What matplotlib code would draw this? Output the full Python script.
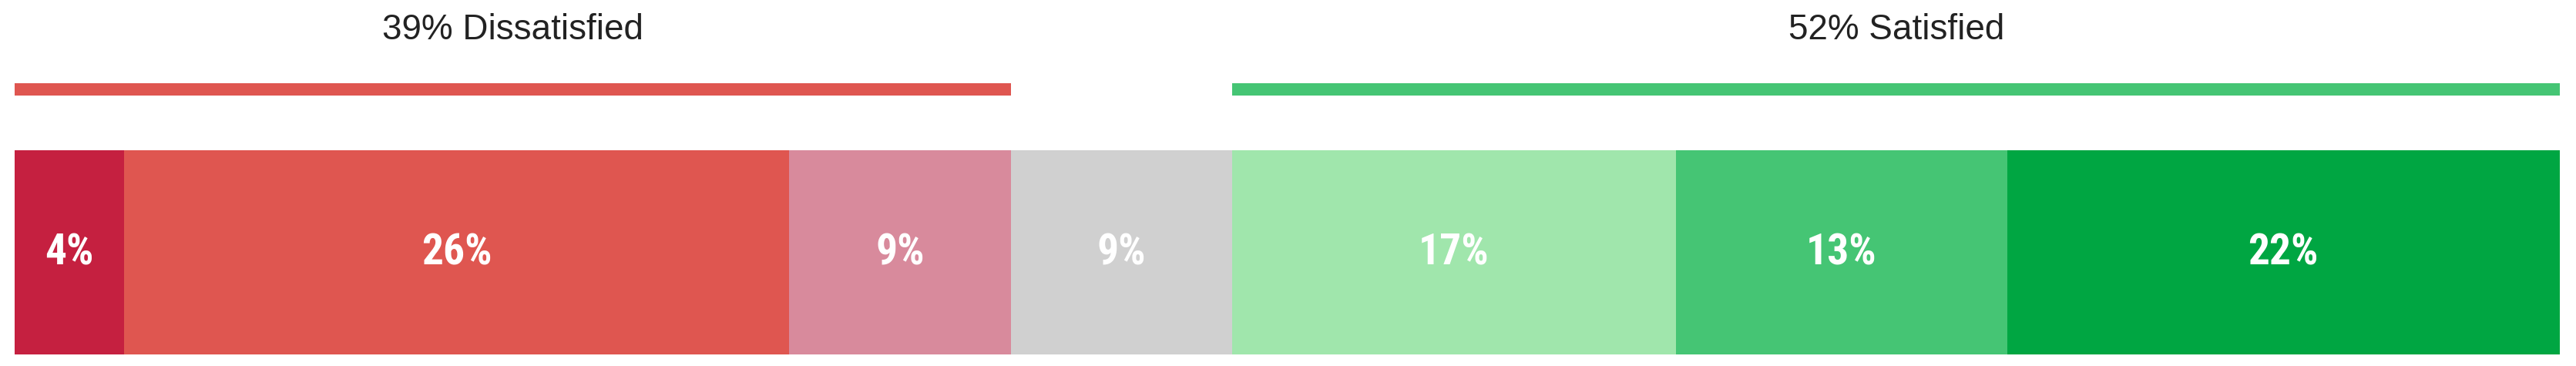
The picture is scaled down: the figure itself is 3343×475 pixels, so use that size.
import numpy as np
import matplotlib
matplotlib.use("Agg")
import matplotlib.pyplot as plt
from matplotlib import font_manager

# segment shares (labels are rounded)
categories = ["Very dissatisfied", "Dissatisfied", "Somewhat dissatisfied", "Neutral",
              "Somewhat satisfied", "Satisfied", "Very satisfied"]
values = [4.3, 26.1, 8.7, 8.7, 17.4, 13.0, 21.7]
colors = ["#C52040", "#DF5650", "#D88A9C", "#D0D0D0", "#A0E6AC", "#45C574", "#00A642"]
group_labels = ["39% Dissatisfied", "52% Satisfied"]
group_colors = ["#DF5650", "#45C574"]

W, H, DPI = 3343, 475, 100
fig = plt.figure(figsize=(W / DPI, H / DPI), dpi=DPI)
ax = fig.add_axes([0, 0, 1, 1])

names = {f.name for f in font_manager.fontManager.ttflist}
narrow = "Liberation Sans Narrow" in names
cond = "Roboto Condensed" in names

total = sum(values)
left_px, right_px = 19, 3322
scale = (right_px - left_px) / total
ax.set_xlim(-left_px / scale, (W - left_px) / scale)
ax.set_ylim(H, 0)
ax.axis("off")

# stacked segments
lefts = np.concatenate([[0], np.cumsum(values)[:-1]])
ax.barh(327.5, values, left=lefts, height=265, color=colors, linewidth=0)
for l, v in zip(lefts, values):
    ax.text(l + v / 2, 329, f"{round(v)}%", ha="center", va="center",
            color="white", fontsize=40 if cond else 37, fontweight="bold",
            family="Roboto Condensed" if cond else "Roboto")

# group brackets above the bar
ends = np.cumsum(values)
spans = [(0, ends[2]), (ends[3], ends[-1])]
for (a, b), lab, c in zip(spans, group_labels, group_colors):
    ax.plot([a, b], [116, 116], color=c, linewidth=16 * 72 / DPI, solid_capstyle="butt")
    ax.text((a + b) / 2, 39, lab, ha="center", va="center",
            fontsize=37 if narrow else 33, color="#222222",
            family="Liberation Sans Narrow" if narrow else "Liberation Sans")

fig.savefig("out.png", dpi=DPI)
